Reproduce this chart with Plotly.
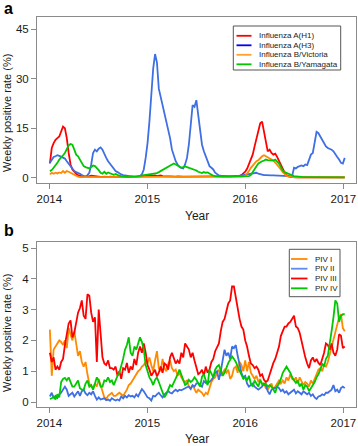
import pandas as pd
import plotly.graph_objects as go

# ---------------- data (weekly positive rate, %) ----------------
start_date = "2014-01-03"
year_ticks = ["2014-01-01", "2015-01-01", "2016-01-01", "2017-01-01"]
year_labels = ["2014", "2015", "2016", "2017"]

flu_names = ["Influenza A(H1)", "Influenza A(H3)", "Influenza B/Victoria", "Influenza B/Yamagata"]
piv_names = ["PIV I", "PIV II", "PIV III", "PIV IV"]

h1 = [4.3, 9, 10.5, 11.5, 12, 12.5, 14, 15.5, 15, 12,
      7.5, 4, 2.5, 1.7, 1.2, 0.8, 0.5, 0.4, 0.3, 0.3,
      0.4, 0.5, 0.6, 0.5, 0.4, 0.5, 0.3, 0.3, 0.2, 0.3,
      0.2, 0.2, 0.3, 0.2, 0.2, 0.2, 0.2, 0.2, 0.2, 0.2,
      0.2, 0.2, 0.2, 0.2, 0.2, 0.3, 0.3, 0.3, 0.3, 0.4,
      0.5, 0.6, 0.7, 0.6, 0.7, 0.6, 0.7, 0.5, 0.6, 0.7,
      0.5, 0.4, 0.5, 0.4, 0.4, 0.3, 0.4, 0.3, 0.4, 0.3,
      0.3, 0.3, 0.3, 0.3, 0.3, 0.3, 0.3, 0.3, 0.3, 0.3,
      0.3, 0.3, 0.3, 0.3, 0.3, 0.3, 0.3, 0.3, 0.3, 0.3,
      0.3, 0.3, 0.3, 0.3, 0.3, 0.3, 0.3, 0.3, 0.3, 0.4,
      0.4, 0.5, 0.8, 1.2, 1.8, 2.7, 4, 5.5, 7, 9.5,
      12, 14.8, 16.5, 17, 14, 10, 8, 8.5, 7.5, 7,
      7.3, 6.3, 5, 4, 2.5, 1.5, 0.8, 0.4, 0.2, 0.2,
      0.1, 0.1, 0.1, 0.1, 0.1, 0.1, 0.1, 0.1, 0.1, 0.1,
      0.1, 0.1, 0.1, 0.1, 0.1, 0.1, 0.1, 0.1, 0.1, 0.1,
      0.1, 0.1, 0.1, 0.1, 0.1, 0.1, 0.1, 0.1]

h3 = [4.5, 5.5, 6.3, 6.5, 6.8, 6.6, 6.3, 6, 5.8, 5,
      4.3, 3.5, 2.7, 2, 1.7, 1.5, 1.2, 0.8, 0.6, 0.3,
      0.8, 1.5, 4, 7.5, 8.5, 8, 8.8, 9.2, 8.5, 7,
      6, 5, 4.3, 3.5, 2.7, 2, 1.7, 1.3, 1, 0.8,
      0.7, 0.6, 0.5, 0.4, 0.3, 0.3, 0.2, 0.3, 0.5, 1,
      2.5, 6, 10.5, 17, 25, 33, 37.5, 35, 27, 24.5,
      22.5, 20, 17, 14.5, 12, 8.5, 6.5, 5, 4, 3.3,
      3, 2.8, 4, 6, 10, 16, 22, 21.5, 23.5, 19,
      14.5, 10, 8, 6.5, 5, 3.5, 3, 2.5, 1.5, 1,
      0.7, 0.6, 0.5, 0.5, 0.4, 0.4, 0.4, 0.4, 0.5, 0.5,
      0.6, 0.6, 0.7, 0.8, 0.9, 1, 1.1, 1.2, 1.4, 1.6,
      1.5, 1.2, 1, 0.9, 0.8, 0.8, 0.7, 0.7, 0.7, 0.7,
      0.7, 0.7, 0.7, 0.7, 0.7, 0.7, 0.6, 0.5, 0.4, 0.5,
      3, 2.8, 3.3, 3.5, 3.7, 3.5, 4, 3.8, 5.5, 7,
      7.5, 11, 13.9, 13.5, 12.5, 11.5, 10.5, 9.5, 9, 8.8,
      8.5, 8, 7, 6.3, 5.5, 4.5, 4.3, 6]

bvic = [1, 1.5, 1.2, 1.5, 1.3, 1.6, 1.4, 2, 1.5, 2,
        1.8, 1.5, 1, 0.7, 0.5, 0.3, 0.2, 0.2, 0.1, 0.1,
        0.1, 0.1, 0.1, 0.1, 0.1, 0.1, 0.1, 0.1, 0.1, 0.1,
        0.1, 0.1, 0.1, 0.1, 0.1, 0.1, 0.1, 0.1, 0.1, 0.1,
        0.1, 0.1, 0.1, 0.1, 0.1, 0.1, 0.1, 0.1, 0.1, 0.1,
        0.1, 0.1, 0.1, 0.1, 0.1, 0.1, 0.1, 0.1, 0.1, 0.1,
        0.1, 0.1, 0.1, 0.1, 0.1, 0.1, 0.1, 0.1, 0.1, 0.1,
        0.1, 0.1, 0.1, 0.1, 0.1, 0.1, 0.1, 0.1, 0.1, 0.1,
        0.1, 0.1, 0.1, 0.1, 0.1, 0.1, 0.1, 0.1, 0.1, 0.1,
        0.1, 0.1, 0.1, 0.1, 0.1, 0.1, 0.1, 0.1, 0.1, 0.1,
        0.2, 0.2, 0.2, 0.3, 0.5, 1.2, 2, 3, 3.7, 4.2,
        5, 5.3, 6, 6.5, 6.8, 6.5, 6.2, 5.8, 5.5, 5.2,
        4.6, 4, 3.3, 2.5, 1.7, 1, 0.6, 0.3, 0.2, 0.1,
        0.1, 0.1, 0.1, 0.1, 0.1, 0.1, 0.1, 0.1, 0.1, 0.1,
        0.1, 0.1, 0.1, 0.1, 0.1, 0.1, 0.1, 0.1, 0.1, 0.1,
        0.1, 0.1, 0.1, 0.1, 0.1, 0.1, 0.1, 0.1]

byam = [2, 2.3, 3, 3.7, 4.5, 5.5, 6.3, 6.8, 7.5, 8.8,
        9.8, 10.2, 10, 8.5, 7, 6.5, 5.5, 4.5, 3.5, 3.2,
        3, 2.8, 3.2, 3.7, 3.5, 3, 2.3, 1.5, 1.2, 1.8,
        1.2, 1.6, 1.3, 1, 0.9, 1.1, 0.8, 0.6, 0.5, 0.4,
        0.3, 0.2, 0.2, 0.3, 0.2, 0.3, 0.4, 0.5, 0.6, 0.7,
        0.8, 0.9, 1, 1.1, 1, 1.2, 1.3, 1.4, 1.7, 2,
        2.4, 2.7, 3, 3.3, 3.6, 3.8, 4.3, 4, 3.7, 3.5,
        3, 3.2, 3.4, 3.2, 3, 2.8, 2.7, 2.5, 2.2, 1.8,
        1.6, 1.4, 1.7, 1.5, 1.6, 1.2, 0.8, 0.6, 0.5, 0.4,
        0.3, 0.3, 0.3, 0.3, 0.3, 0.3, 0.3, 0.3, 0.3, 0.3,
        0.3, 0.3, 0.3, 0.3, 0.3, 0.4, 0.5, 0.8, 1.8, 2.8,
        3.5, 4.3, 4.8, 5, 5.2, 5.5, 5.3, 5.2, 5.3, 5.2,
        5.5, 5, 4.3, 3.2, 2.2, 1.7, 1.4, 1.2, 0.9, 0.7,
        0.5, 0.4, 0.3, 0.3, 0.2, 0.2, 0.2, 0.2, 0.2, 0.2,
        0.2, 0.1, 0.1, 0.1, 0.1, 0.1, 0.1, 0.1, 0.1, 0.1,
        0.1, 0.1, 0.1, 0.1, 0.1, 0.1, 0.1, 0.1]

piv1 = [2.35, 0.85, 1.7, 1.8, 1.9, 2.0, 1.95, 1.85, 2.0, 1.75,
        2.4, 2.2, 2.0, 2.3, 1.8, 1.5, 1.65, 1.3, 1.15, 1.3,
        0.9, 0.6, 0.5, 0.45, 0.6, 0.5, 0.75, 0.5, 0.35, 0.15,
        0.1, 0.2, 0.25, 0.3, 0.2, 0.2, 0.25, 0.3, 0.25, 0.2,
        0.3, 0.4, 0.55, 0.6, 0.7, 0.8, 0.9, 1.0, 1.05, 1.15,
        1.2, 1.3, 1.25, 1.45, 1.2, 1.0, 1.35, 1.65, 1.1, 1.0,
        1.4, 1.1, 1.0, 1.25, 1.35, 1.1, 1.0, 1.05, 0.85, 0.95,
        0.8, 0.7, 0.65, 0.7, 0.5, 0.45, 0.55, 0.4, 0.3, 0.4,
        0.35, 0.3, 0.2, 0.3, 0.25, 0.45, 0.65, 0.75, 0.8, 0.95,
        1.05, 0.85, 0.95, 1.05, 0.95, 1.05, 0.75, 0.85, 1.1, 1.15,
        0.95, 1.3, 1.2, 1.0, 1.35, 1.0, 1.3, 0.95, 0.85, 0.75,
        0.85, 0.65, 0.75, 0.55, 0.6, 0.45, 0.4, 0.5, 0.6, 0.4,
        0.5, 0.6, 0.7, 0.6, 0.7, 0.6, 0.8, 0.7, 0.9, 0.75,
        0.7, 0.8, 0.6, 0.8, 0.65, 0.55, 0.65, 0.6, 0.5, 0.7,
        0.6, 0.75, 0.9, 1.05, 1.1, 1.0, 1.2, 1.15, 1.3, 1.55,
        1.7, 2.0, 2.25, 2.5, 2.75, 2.85, 2.4, 2.3]

piv2 = [0.18, 0.3, 0.12, 0.2, 0.13, 0.25, 0.3, 0.4, 0.5, 0.4,
        0.2, 0.25, 0.3, 0.18, 0.28, 0.35, 0.2, 0.35, 0.4, 0.28,
        0.22, 0.3, 0.25, 0.35, 0.2, 0.08, 0.15, 0.08, 0.1, 0.12,
        0.06, 0.08, 0.04, 0.12, 0.08, 0.05, 0.08, 0.05, 0.18, 0.12,
        0.2, 0.15, 0.22, 0.18, 0.2, 0.15, 0.25, 0.18, 0.3, 0.42,
        0.35, 0.25, 0.15, 0.12, 0.05, 0.2, 0.18, 0.25, 0.3, 0.22,
        0.15, 0.25, 0.3, 0.35, 0.3, 0.28, 0.35, 0.4, 0.35, 0.4,
        0.38, 0.42, 0.45, 0.48, 0.5, 0.42, 0.55, 0.5, 0.6, 0.62,
        0.55, 0.5, 0.68, 0.62, 0.6, 0.65, 0.72, 0.8, 0.95, 1.0,
        0.72, 1.0, 1.3, 1.7, 1.5, 1.6, 1.4, 1.8, 1.75, 1.85,
        1.5, 1.2, 0.95, 0.8, 0.85, 0.6, 0.5, 0.55, 0.6, 0.5,
        0.45, 0.4, 0.45, 0.5, 0.6, 0.55, 0.35, 0.25, 0.4, 0.45,
        0.45, 0.5, 0.45, 0.35, 0.4, 0.3, 0.35, 0.25, 0.3, 0.35,
        0.4, 0.28, 0.35, 0.3, 0.25, 0.35, 0.3, 0.25, 0.3, 0.2,
        0.25, 0.15, 0.1, 0.18, 0.2, 0.25, 0.22, 0.3, 0.3, 0.35,
        0.4, 0.55, 0.35, 0.4, 0.3, 0.45, 0.5, 0.45]

piv3 = [1.6, 1.3, 1.45, 1.05, 1.15, 1.05, 1.3, 1.4, 1.85, 2.2,
        2.55, 2.65, 2.1, 2.25, 2.65, 2.9, 3.05, 3.3, 2.8, 2.7,
        3.5, 3.45, 2.9, 2.6, 2.75, 1.3, 3.0, 2.1, 1.45, 1.25,
        1.2, 1.35, 1.1, 1.1, 1.05, 1.15, 0.85, 1.0, 0.75, 1.1,
        1.05, 1.27, 0.95, 1.15, 1.05, 1.4, 1.2, 1.6, 1.8, 1.6,
        1.9, 1.6, 1.2, 1.05, 0.85, 0.95, 1.05, 0.83, 0.95, 1.15,
        0.95, 1.25, 1.2, 1.05, 1.45, 1.6, 1.45, 1.25, 1.35, 1.25,
        1.6, 1.45, 1.9, 1.8, 1.7, 1.45, 1.6, 1.35, 1.1, 0.9,
        0.95, 1.05, 0.85, 1.15, 0.95, 1.05, 1.3, 1.4, 1.65, 1.8,
        1.9, 2.3, 2.6, 2.7, 3.0, 3.2, 3.3, 3.75, 3.75, 3.4,
        3.0, 2.7, 2.45, 2.35, 2.0, 1.8, 1.5, 1.25, 1.2, 1.1,
        1.15, 1.05, 0.85, 0.9, 0.72, 0.65, 0.7, 0.9, 1.05, 1.27,
        1.4, 1.6, 1.8, 2.15, 2.3, 2.45, 2.45, 2.55, 2.6, 2.7,
        2.8, 2.45, 2.4, 2.25, 1.95, 1.75, 1.45, 1.25, 1.1, 1.35,
        1.45, 1.3, 1.4, 1.27, 1.2, 1.4, 1.6, 1.9, 1.85, 1.7,
        1.9, 1.6, 1.5, 1.7, 2.2, 2.15, 1.75, 1.8]

piv4 = [0.1, 0.12, 0.18, 0.08, 0.25, 0.15, 0.65, 0.75, 0.78, 0.7,
        0.8, 0.65, 0.5, 0.5, 0.6, 0.7, 0.45, 0.4, 0.4, 0.6,
        0.7, 0.5, 0.55, 0.4, 0.6, 0.8, 0.7, 0.5, 0.5, 0.7,
        0.68, 0.8, 0.65, 0.7, 0.55, 0.72, 0.85, 0.95, 1.15, 1.4,
        1.7, 1.85, 2.1, 1.6, 1.5, 1.8, 1.7, 1.9, 2.1, 1.95,
        1.7, 1.2, 1.0, 0.8, 0.7, 0.55, 0.72, 0.8, 0.65, 0.5,
        0.3, 0.15, 0.25, 0.4, 0.55, 0.5, 0.62, 0.75, 0.9, 1.05,
        0.9, 0.7, 0.55, 0.6, 0.72, 0.65, 0.7, 0.8, 0.72, 0.6,
        0.5, 0.82, 0.9, 0.7, 0.55, 1.05, 0.9, 0.8, 1.05, 1.15,
        1.2, 1.0, 0.85, 0.95, 1.15, 1.27, 1.37, 1.48, 1.4, 1.3,
        1.15, 1.0, 0.85, 0.75, 0.8, 0.7, 0.85, 0.6, 0.5, 0.7,
        0.6, 0.5, 0.7, 0.6, 0.55, 0.6, 0.5, 0.55, 0.5, 0.4,
        0.3, 0.5, 0.6, 0.75, 0.95, 1.05, 1.15, 1.05, 0.95, 0.8,
        0.7, 0.62, 0.7, 0.5, 0.6, 0.4, 0.55, 0.5, 0.35, 0.45,
        0.55, 0.65, 0.8, 0.9, 1.05, 1.25, 1.15, 1.4, 1.5, 2.0,
        2.3, 2.75, 3.3, 3.2, 2.6, 2.8, 2.85, 2.85]

flu_series = [h1, h3, bvic, byam]
piv_series = [piv1, piv2, piv3, piv4]
flu_colors = ["#FF0000", "#3F6FE4", "#FF8A00", "#00C800"]
flu_legend_colors = ["#FF0000", "#0000FF", "#FFA030", "#00C800"]
piv_colors = ["#FF8A00", "#3F6FE4", "#FF0000", "#00C800"]
piv_legend_colors = ["#FF8A00", "#5F8AEE", "#FF0000", "#00C800"]

# ---------------- layout geometry ----------------
W, H = 358, 446
L, R, T, B = 37, 2, 17, 39
PW, PH = W - L - R, H - T - B


def px(x):
    return (x - L) / PW


def py(y):
    return (H - B - y) / PH


FONT = "Liberation Sans, Arial, Helvetica, sans-serif"
BOX = "#8a8a8a"

fig = go.Figure()


def weeks(values):
    return pd.date_range(start_date, periods=len(values), freq="7D")


for name, vals, col in zip(flu_names, flu_series, flu_colors):
    fig.add_trace(go.Scatter(x=weeks(vals), y=vals, mode="lines", name=name,
                             line=dict(color=col, width=1.8), xaxis="x", yaxis="y",
                             showlegend=False))
for name, vals, col in zip(piv_names, piv_series, piv_colors):
    fig.add_trace(go.Scatter(x=weeks(vals), y=vals, mode="lines", name=name,
                             line=dict(color=col, width=1.8), xaxis="x2", yaxis="y2",
                             showlegend=False))

xrange = ["2013-11-16", "2017-02-17"]
axis_common = dict(showline=True, mirror=True, linecolor=BOX, linewidth=1,
                   ticks="outside", ticklen=5, tickcolor=BOX, tickwidth=1,
                   showgrid=False, zeroline=False, automargin=False,
                   tickfont=dict(family=FONT, size=11.5, color="#1a1a1a"))

fig.update_layout(
    width=W, height=H, margin=dict(l=L, r=R, t=T, b=B, autoexpand=False),
    paper_bgcolor="white", plot_bgcolor="white",
    font=dict(family=FONT, color="#1a1a1a"),
    xaxis=dict(domain=[0, 1], anchor="y", range=xrange, tickvals=year_ticks,
               ticktext=year_labels, **axis_common),
    yaxis=dict(domain=[py(183.3), 1], anchor="x", range=[-1.70, 48.73],
               tickvals=[0, 15, 30, 45], **axis_common),
    xaxis2=dict(domain=[0, 1], anchor="y2", range=xrange, tickvals=year_ticks,
                ticktext=year_labels, **axis_common),
    yaxis2=dict(domain=[0, py(242)], anchor="x2", range=[-0.162, 5.195],
                tickvals=[0, 1, 2, 3, 4, 5], **axis_common),
)

shapes = []
annotations = []


def legend(names, colors, box, rows, line_x, text_x):
    x0, x1, y0, y1 = box
    shapes.append(dict(type="rect", xref="paper", yref="paper",
                       x0=px(x0), x1=px(x1), y0=py(y0), y1=py(y1),
                       line=dict(color="#555555", width=1), fillcolor="white"))
    for name, col, yy in zip(names, colors, rows):
        shapes.append(dict(type="line", xref="paper", yref="paper",
                           x0=px(line_x[0]), x1=px(line_x[1]), y0=py(yy), y1=py(yy),
                           line=dict(color=col, width=1.8)))
        annotations.append(dict(xref="paper", yref="paper", x=px(text_x), y=py(yy),
                                text=name, showarrow=False, xanchor="left",
                                yanchor="middle",
                                font=dict(family=FONT, size=8, color="#222222")))


legend(flu_names, flu_legend_colors, (233.3, 340.7, 26, 70),
       [35.8, 45.3, 54.8, 64.3], (236.5, 251.5), 257)
legend(piv_names, piv_legend_colors, (289.3, 340, 249.3, 296.7),
       [259, 268.7, 278.5, 288.3], (291, 307.5), 312.5)

# panel letters
for letter, yc in (("a", 8), ("b", 230)):
    annotations.append(dict(xref="paper", yref="paper", x=px(1.5), y=py(yc),
                            text="<b>%s</b>" % letter, showarrow=False,
                            xanchor="left", yanchor="middle",
                            font=dict(family=FONT, size=16, color="black")))

# axis titles
for yc in (113, 333):
    annotations.append(dict(xref="paper", yref="paper", x=px(7), y=py(yc),
                            text="Weekly positive rate (%)", textangle=-90,
                            showarrow=False, xanchor="center", yanchor="middle",
                            font=dict(family=FONT, size=11, color="#1a1a1a")))
for yc in (215.5, 439.5):
    annotations.append(dict(xref="paper", yref="paper", x=px(196.5), y=py(yc),
                            text="Year", showarrow=False, xanchor="center",
                            yanchor="middle",
                            font=dict(family=FONT, size=12, color="#1a1a1a")))

fig.update_layout(shapes=shapes, annotations=annotations)
fig.write_html("out.html", config={"displayModeBar": False},
               post_script="document.body.style.margin='0';document.body.style.padding='0';")
